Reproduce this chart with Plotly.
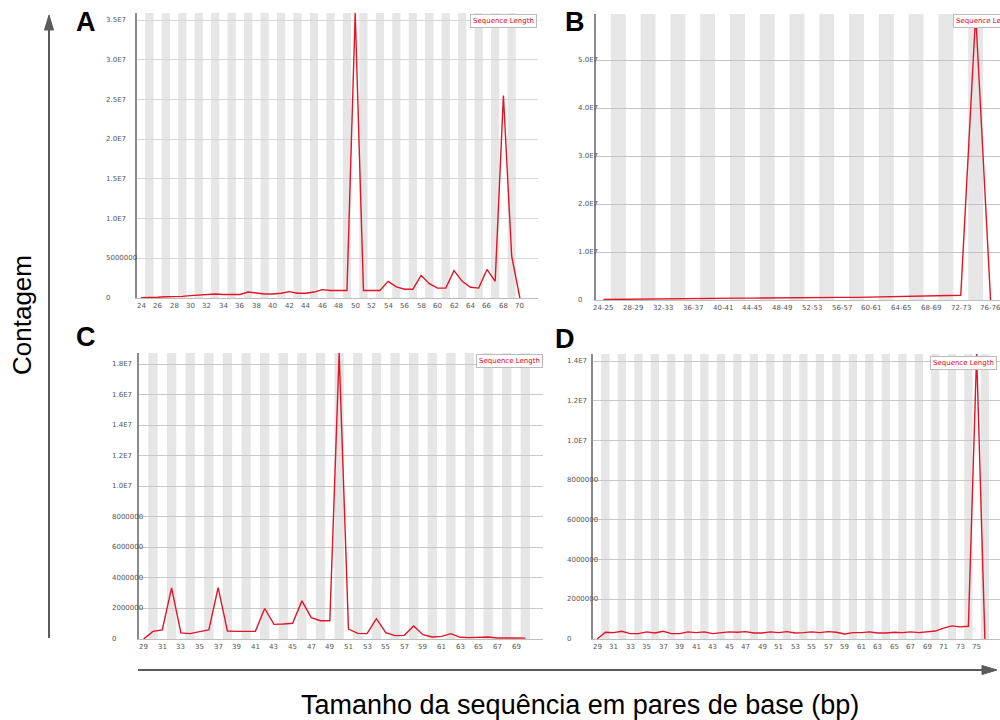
import plotly.graph_objects as go

W, H = 1000, 720

# ---- Panel A: read-length distribution, single-base bins 24..70 ----
a_lengths = ["24", "25", "26", "27", "28", "29", "30", "31", "32", "33", "34", "35",
             "36", "37", "38", "39", "40", "41", "42", "43", "44", "45", "46", "47",
             "48", "49", "50", "51", "52", "53", "54", "55", "56", "57", "58", "59",
             "60", "61", "62", "63", "64", "65", "66", "67", "68", "69", "70"]
a_counts = [50000, 120000, 100000, 150000, 150000, 200000, 300000, 350000, 450000, 500000,
            450000, 450000, 450000, 750000, 600000, 500000, 500000, 600000, 800000, 600000,
            600000, 750000, 1050000, 950000, 950000, 950000, 35900000, 950000, 950000, 950000,
            2100000, 1400000, 1100000, 1100000, 2850000, 1800000, 1250000, 1250000, 3450000,
            2100000, 1350000, 1250000, 3600000, 2100000, 25500000, 5300000, 0]
a_ytick_vals = [0, 5e6, 1e7, 1.5e7, 2e7, 2.5e7, 3e7, 3.5e7]
a_ytick_text = ["0", "5000000", "1.0E7", "1.5E7", "2.0E7", "2.5E7", "3.0E7", "3.5E7"]

# ---- Panel B: two-base bins 24-25 .. 76-76 ----
b_lengths = ["24-25", "26-27", "28-29", "30-31", "32-33", "34-35", "36-37", "38-39",
             "40-41", "42-43", "44-45", "46-47", "48-49", "50-51", "52-53", "54-55",
             "56-57", "58-59", "60-61", "62-63", "64-65", "66-67", "68-69", "70-71",
             "72-73", "74-75", "76-76"]
b_counts = [100000, 150000, 200000, 200000, 250000, 300000, 300000, 350000, 400000,
            400000, 400000, 450000, 450000, 450000, 500000, 500000, 550000, 550000,
            600000, 600000, 650000, 700000, 750000, 850000, 1000000, 59600000, 0]
b_ytick_vals = [0, 1e7, 2e7, 3e7, 4e7, 5e7]
b_ytick_text = ["0", "1.0E7", "2.0E7", "3.0E7", "4.0E7", "5.0E7"]

# ---- Panel C: single-base bins 29..70 ----
c_lengths = ["29", "30", "31", "32", "33", "34", "35", "36", "37", "38", "39", "40",
             "41", "42", "43", "44", "45", "46", "47", "48", "49", "50", "51", "52",
             "53", "54", "55", "56", "57", "58", "59", "60", "61", "62", "63", "64",
             "65", "66", "67", "68", "69", "70"]
c_counts = [0, 500000, 600000, 3350000, 400000, 350000, 480000, 600000, 3370000, 520000,
            500000, 500000, 500000, 2000000, 960000, 980000, 1030000, 2500000, 1400000,
            1200000, 1200000, 18750000, 650000, 370000, 350000, 1330000, 420000, 220000,
            240000, 850000, 280000, 130000, 170000, 350000, 110000, 90000, 90000, 130000,
            70000, 90000, 70000, 60000]
c_ytick_vals = [0, 2e6, 4e6, 6e6, 8e6, 1e7, 1.2e7, 1.4e7, 1.6e7, 1.8e7]
c_ytick_text = ["0", "2000000", "4000000", "6000000", "8000000",
                "1.0E7", "1.2E7", "1.4E7", "1.6E7", "1.8E7"]

# ---- Panel D: single-base bins 29..76 ----
d_lengths = ["29", "30", "31", "32", "33", "34", "35", "36", "37", "38", "39", "40",
             "41", "42", "43", "44", "45", "46", "47", "48", "49", "50", "51", "52",
             "53", "54", "55", "56", "57", "58", "59", "60", "61", "62", "63", "64",
             "65", "66", "67", "68", "69", "70", "71", "72", "73", "74", "75", "76"]
d_counts = [0, 340000, 320000, 390000, 270000, 270000, 360000, 300000, 390000, 270000,
            270000, 360000, 320000, 360000, 270000, 320000, 360000, 340000, 370000,
            300000, 300000, 360000, 320000, 370000, 300000, 320000, 360000, 320000,
            370000, 340000, 250000, 320000, 320000, 360000, 300000, 300000, 340000,
            320000, 360000, 320000, 360000, 400000, 550000, 660000, 610000, 640000,
            14360000, 0]
d_ytick_vals = [0, 2e6, 4e6, 6e6, 8e6, 1e7, 1.2e7, 1.4e7]
d_ytick_text = ["0", "2000000", "4000000", "6000000", "8000000", "1.0E7", "1.2E7", "1.4E7"]

series_name = "Sequence Length"
y_title = "Contagem"
x_title = "Tamanho da sequência em pares de base (bp)"

LINE_RED = "rgb(228,20,36)"
STRIPE = "#e6e6e6"
TICK_FONT = dict(family="DejaVu Sans", size=7, color="#555555")


def px_x(x):
    return x / W


def px_y(y):
    return 1 - y / H


# Pixel box of each plot area (left, top, right, bottom), right padding after last bin,
# x position of the left-aligned y labels, grid colour, panel tag and legend placement.
panels = [
    dict(tag="A", cats=a_lengths, vals=a_counts, yv=a_ytick_vals, yt=a_ytick_text,
         box=(137, 13, 538, 298), pad=14, ylab_x=104, grid="#d6d6d6",
         tag_xy=(86, 22), leg=(537, 14, "right")),
    dict(tag="B", cats=b_lengths, vals=b_counts, yv=b_ytick_vals, yt=b_ytick_text,
         box=(596, 14, 1000, 300), pad=2, ylab_x=576, grid="#c4c4c4",
         tag_xy=(575, 22), leg=(953, 14, "left")),
    dict(tag="C", cats=c_lengths, vals=c_counts, yv=c_ytick_vals, yt=c_ytick_text,
         box=(139, 353, 543, 639), pad=13, ylab_x=110, grid="#c8c8c8",
         tag_xy=(86, 337), leg=(543, 354, "right")),
    dict(tag="D", cats=d_lengths, vals=d_counts, yv=d_ytick_vals, yt=d_ytick_text,
         box=(593, 354, 1000, 639), pad=11, ylab_x=565, grid="#c8c8c8",
         tag_xy=(565, 339), leg=(997, 356, "right")),
]

fig = go.Figure()
shapes = []
annotations = []
layout_axes = {}

for k, p in enumerate(panels, start=1):
    n = len(p["cats"])
    left, top, right, bottom = p["box"]
    cw = (right - left - p["pad"]) / n
    x_hi = -0.5 + (right - left) / cw
    xa = "x" if k == 1 else f"x{k}"
    ya = "y" if k == 1 else f"y{k}"
    xkey = "xaxis" if k == 1 else f"xaxis{k}"
    ykey = "yaxis" if k == 1 else f"yaxis{k}"
    idx = list(range(n))
    tickpos = list(range(0, n, 2))

    fig.add_trace(go.Scatter(
        x=idx, y=p["vals"], mode="lines", name=series_name, showlegend=False,
        line=dict(color=LINE_RED, width=1.4), xaxis=xa, yaxis=ya,
        hovertemplate="%{text}: %{y}<extra></extra>", text=p["cats"],
    ))

    layout_axes[xkey] = dict(
        domain=[px_x(left), px_x(right)], range=[-0.5, x_hi], anchor=ya,
        tickmode="array", tickvals=tickpos, showticklabels=False,
        ticks="", showgrid=False, zeroline=False,
        showline=True, linecolor="#bdbdbd", linewidth=1, fixedrange=True,
    )
    layout_axes[ykey] = dict(
        domain=[px_y(bottom), px_y(top)], range=[0, max(p["vals"])], anchor=xa,
        tickmode="array", tickvals=p["yv"], showticklabels=False, ticks="",
        showgrid=True, gridcolor=p["grid"], gridwidth=1, zeroline=False,
        showline=True, linecolor="#8a8a8a", linewidth=1.5, fixedrange=True,
    )

    # alternating grey bands behind every second length bin
    for j in range(1, n, 2):
        shapes.append(dict(
            type="rect", xref=xa, yref=f"{ya} domain", x0=j - 0.5, x1=j + 0.5,
            y0=0, y1=1, fillcolor=STRIPE, line=dict(width=0), layer="below",
        ))

    # bin labels under every second bin
    for j in tickpos:
        annotations.append(dict(
            xref=xa, yref="paper", x=j, y=px_y(bottom + 2), text=p["cats"][j],
            xanchor="center", yanchor="top", showarrow=False, font=TICK_FONT,
        ))

    # left-aligned count labels
    for v, t in zip(p["yv"], p["yt"]):
        annotations.append(dict(
            xref="paper", yref=ya, x=px_x(p["ylab_x"]), y=v, text=t,
            xanchor="left", yanchor="middle", showarrow=False, font=TICK_FONT,
        ))

    # series key box
    lx, ly, anchor = p["leg"]
    annotations.append(dict(
        xref="paper", yref="paper", x=px_x(lx), y=px_y(ly), text=series_name,
        xanchor=anchor, yanchor="top", showarrow=False,
        font=dict(family="DejaVu Sans", size=7, color="rgb(230,0,20)"),
        bgcolor="white", bordercolor="#bbbbbb", borderwidth=1, borderpad=2,
    ))

    # panel letter
    tx, ty = p["tag_xy"]
    annotations.append(dict(
        xref="paper", yref="paper", x=px_x(tx), y=px_y(ty), text=f"<b>{p['tag']}</b>",
        xanchor="center", yanchor="middle", showarrow=False,
        font=dict(family="Liberation Sans", size=27, color="black"),
    ))

# outer axis arrows
ARROW = "#5a5a5a"
shapes.append(dict(type="line", xref="paper", yref="paper",
                   x0=px_x(49), y0=px_y(638), x1=px_x(49), y1=px_y(28),
                   line=dict(color=ARROW, width=2)))
shapes.append(dict(type="path", xref="paper", yref="paper",
                   path=(f"M {px_x(44.5)} {px_y(30)} L {px_x(53.5)} {px_y(30)} "
                         f"L {px_x(49)} {px_y(15)} Z"),
                   fillcolor=ARROW, line=dict(color=ARROW, width=1)))
shapes.append(dict(type="line", xref="paper", yref="paper",
                   x0=px_x(138), y0=px_y(670), x1=px_x(984), y1=px_y(670),
                   line=dict(color=ARROW, width=2)))
shapes.append(dict(type="path", xref="paper", yref="paper",
                   path=(f"M {px_x(982)} {px_y(665.5)} L {px_x(982)} {px_y(674.5)} "
                         f"L {px_x(997)} {px_y(670)} Z"),
                   fillcolor=ARROW, line=dict(color=ARROW, width=1)))

annotations.append(dict(
    xref="paper", yref="paper", x=px_x(22), y=px_y(315), text=y_title, textangle=-90,
    xanchor="center", yanchor="middle", showarrow=False,
    font=dict(family="Liberation Sans", size=26, color="black"),
))
annotations.append(dict(
    xref="paper", yref="paper", x=px_x(580), y=px_y(705), text=x_title,
    xanchor="center", yanchor="middle", showarrow=False,
    font=dict(family="Liberation Sans", size=27, color="black"),
))

fig.update_layout(
    width=W, height=H, margin=dict(l=0, r=0, t=0, b=0),
    paper_bgcolor="white", plot_bgcolor="white",
    shapes=shapes, annotations=annotations, showlegend=False,
    **layout_axes,
)

fig.write_html("out.html")
